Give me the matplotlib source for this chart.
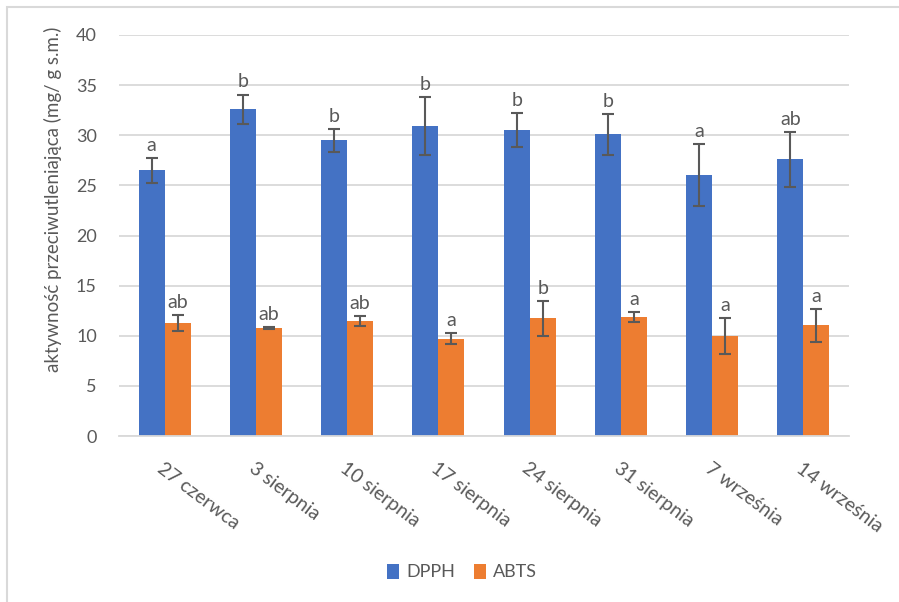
import numpy as np
import matplotlib
matplotlib.use("Agg")
import matplotlib.pyplot as plt
from matplotlib.patches import Rectangle

plt.rcParams["font.family"] = ["Lato", "DejaVu Sans"]

# Sampling dates and measured antioxidant activity (mean +/- SD)
dates = ["27 czerwca", "3 sierpnia", "10 sierpnia", "17 sierpnia",
         "24 sierpnia", "31 sierpnia", "7 września", "14 września"]
dpph = [26.5, 32.6, 29.5, 30.9, 30.55, 30.1, 26.0, 27.6]
dpph_sd = [1.25, 1.45, 1.15, 2.9, 1.7, 2.05, 3.1, 2.75]
abts = [11.3, 10.75, 11.5, 9.7, 11.75, 11.85, 10.0, 11.05]
abts_sd = [0.8, 0.1, 0.5, 0.55, 1.75, 0.5, 1.8, 1.65]
# homogeneous groups (letters) for each series
dpph_groups = ["a", "b", "b", "b", "b", "b", "a", "ab"]
abts_groups = ["ab", "ab", "ab", "a", "b", "a", "a", "a"]

BLUE = "#4472C4"
ORANGE = "#ED7D31"
GREY_TXT = "#595959"
GRID = "#D9D9D9"

fig = plt.figure(figsize=(8.99, 6.02), dpi=100)
ax = fig.add_axes([0.1324, 0.2757, 0.812, 0.6662])

x = np.arange(len(dates))
w = 0.285
err_kw = dict(ecolor=GREY_TXT, elinewidth=1.5, capsize=4, capthick=1.5)
ax.bar(x - w / 2, dpph, w, yerr=dpph_sd, color=BLUE, label="DPPH",
       error_kw=err_kw, zorder=2)
ax.bar(x + w / 2, abts, w, yerr=abts_sd, color=ORANGE, label="ABTS",
       error_kw=err_kw, zorder=2)

# letters just above the error bars
for xi, v, sd, g in zip(x - w / 2, dpph, dpph_sd, dpph_groups):
    ax.annotate(g, (xi, v + sd), xytext=(0, 3), textcoords="offset points",
                ha="center", va="bottom", fontsize=14, color=GREY_TXT, zorder=3)
for xi, v, sd, g in zip(x + w / 2, abts, abts_sd, abts_groups):
    ax.annotate(g, (xi, v + sd), xytext=(0, 3), textcoords="offset points",
                ha="center", va="bottom", fontsize=14, color=GREY_TXT, zorder=3)

ax.set_xlim(-0.5, len(dates) - 0.5)
ax.set_ylim(0, 40)
ax.set_yticks(range(0, 41, 5))
ax.yaxis.grid(True, color=GRID, linewidth=1.3, zorder=0)
ax.set_axisbelow(True)
for side in ["top", "right", "left"]:
    ax.spines[side].set_visible(False)
ax.spines["bottom"].set_color(GRID)
ax.spines["bottom"].set_linewidth(1.3)
ax.tick_params(axis="y", length=0, pad=16, labelsize=13, labelcolor=GREY_TXT)
ax.tick_params(axis="x", length=0, pad=17)
ax.set_xticks(x)
ax.set_xticklabels(dates, rotation=-37, ha="left", va="top",
                   rotation_mode="anchor", fontsize=14, color=GREY_TXT)

ax.set_ylabel("aktywność przeciwutleniająca (mg/ g s.m.)", fontsize=13.5,
              color=GREY_TXT)
ax.yaxis.set_label_coords(-0.078, 0.59)

leg = fig.legend(loc="center", bbox_to_anchor=(0.514, 0.05), ncol=2,
                 frameon=False, fontsize=13, handlelength=0.7,
                 handleheight=0.9, handletextpad=0.4, columnspacing=1.0)
for t in leg.get_texts():
    t.set_color(GREY_TXT)

# chart area border
fig.patches.append(Rectangle((7 / 899, -0.1), 1.2, 1 - 7 / 602 + 0.1,
                             transform=fig.transFigure, fill=False,
                             edgecolor=GRID, linewidth=1.5))

fig.savefig("out.png", dpi=100)
